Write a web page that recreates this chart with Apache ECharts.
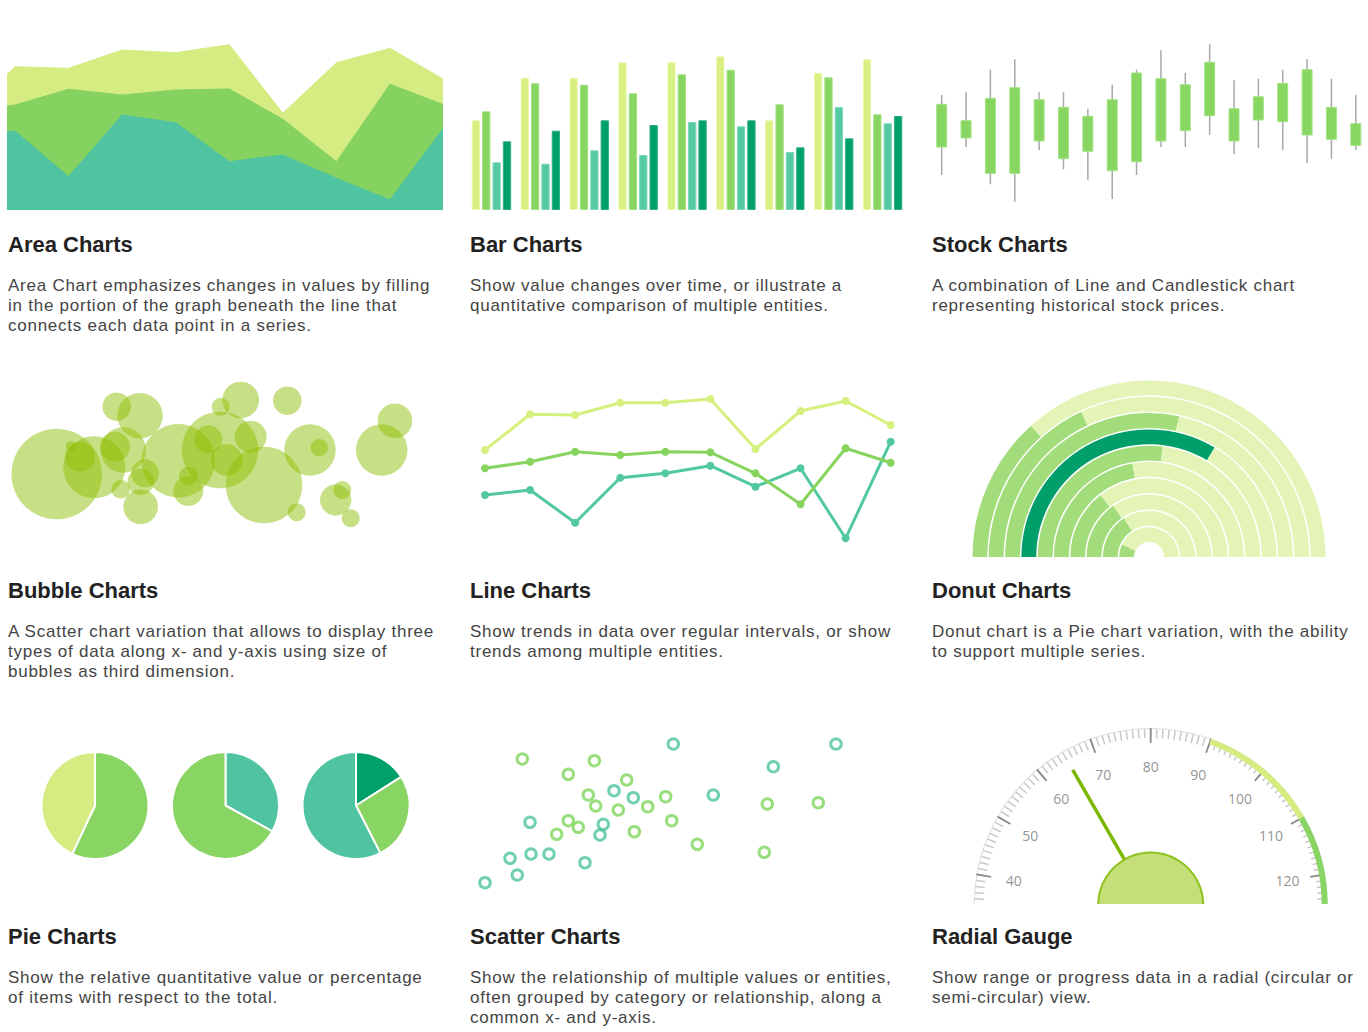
<!DOCTYPE html>
<html><head><meta charset="utf-8">
<script src="https://cdn.jsdelivr.net/npm/echarts@6/dist/echarts.min.js"></script>
<style>
html,body{margin:0;padding:0;background:#fff;width:1368px;height:1032px;overflow:hidden;position:relative}
.c{position:absolute;overflow:hidden}
.t{position:absolute;font-family:"Liberation Sans",Arial,sans-serif;font-weight:bold;font-size:22px;line-height:26px;color:#222;white-space:nowrap}
.d{position:absolute;font-family:"Liberation Sans",Arial,sans-serif;font-size:17px;line-height:20px;color:#444;white-space:nowrap;letter-spacing:0.75px}
</style></head><body>
<div id="area" class="c" style="left:0;top:30px;width:450px;height:180px"></div>
<div id="bar" class="c" style="left:460px;top:30px;width:460px;height:180px"></div>
<div id="stock" class="c" style="left:920px;top:30px;width:448px;height:210px"></div>
<div id="bubble" class="c" style="left:0;top:360px;width:450px;height:200px"></div>
<div id="line" class="c" style="left:460px;top:370px;width:450px;height:220px"></div>
<div id="donut" class="c" style="left:960px;top:370px;width:380px;height:187px"></div>
<div id="pie" class="c" style="left:30px;top:740px;width:390px;height:135px"></div>
<div id="scatter" class="c" style="left:465px;top:725px;width:390px;height:175px"></div>
<div id="gauge" class="c" style="left:960px;top:715px;width:380px;height:189px"></div>

<div class="t" style="left:8px;top:232px">Area Charts</div>
<div class="d" style="left:8px;top:276px">Area Chart emphasizes changes in values by filling<br>in the portion of the graph beneath the line that<br>connects each data point in a series.</div>
<div class="t" style="left:470px;top:232px">Bar Charts</div>
<div class="d" style="left:470px;top:276px">Show value changes over time, or illustrate a<br>quantitative comparison of multiple entities.</div>
<div class="t" style="left:932px;top:232px">Stock Charts</div>
<div class="d" style="left:932px;top:276px">A combination of Line and Candlestick chart<br>representing historical stock prices.</div>

<div class="t" style="left:8px;top:578px">Bubble Charts</div>
<div class="d" style="left:8px;top:622px">A Scatter chart variation that allows to display three<br>types of data along x- and y-axis using size of<br>bubbles as third dimension.</div>
<div class="t" style="left:470px;top:578px">Line Charts</div>
<div class="d" style="left:470px;top:622px">Show trends in data over regular intervals, or show<br>trends among multiple entities.</div>
<div class="t" style="left:932px;top:578px">Donut Charts</div>
<div class="d" style="left:932px;top:622px">Donut chart is a Pie chart variation, with the ability<br>to support multiple series.</div>

<div class="t" style="left:8px;top:924px">Pie Charts</div>
<div class="d" style="left:8px;top:968px">Show the relative quantitative value or percentage<br>of items with respect to the total.</div>
<div class="t" style="left:470px;top:924px">Scatter Charts</div>
<div class="d" style="left:470px;top:968px">Show the relationship of multiple values or entities,<br>often grouped by category or relationship, along a<br>common x- and y-axis.</div>
<div class="t" style="left:932px;top:924px">Radial Gauge</div>
<div class="d" style="left:932px;top:968px">Show range or progress data in a radial (circular or<br>semi-circular) view.</div>

<script>
// ---------- DATA ----------
const areaX = [0, 1, 2, 3, 4, 5, 6, 7, 8, 9];
const areaLight = [92, 143.3, 141.7, 160, 157.3, 165.3, 96.7, 147.3, 161.7, 130.7];
const areaGreen = [97.3, 105, 120.7, 115, 120, 121, 90.7, 48.3, 125.7, 105.3];
const areaTeal = [74, 79, 33.3, 95, 87.3, 48.3, 55, 31.7, 10, 82.3];

const barCats = ['1', '2', '3', '4', '5', '6', '7', '8', '9'];
const barS1 = [89.7, 132.3, 132.3, 147.7, 147.7, 153.7, 89.7, 137.3, 150.7];
const barS2 = [98.7, 126.7, 125.3, 116.7, 135.7, 140.3, 105.7, 132.7, 95.7];
const barS3 = [47.7, 46.3, 59.7, 55, 88, 83.7, 58, 103, 86.7];
const barS4 = [68.7, 79.3, 89.7, 85, 89.7, 89.7, 62.7, 71.7, 94];

const stockCats = ['1','2','3','4','5','6','7','8','9','10','11','12','13','14','15','16','17','18'];
const stockOpen = [88, 97, 61.7, 61.7, 94, 76.3, 83.7, 64.3, 73.3, 94, 104.3, 119.3, 94, 115, 113.3, 100, 95.7, 89.7];
const stockClose = [130.7, 114.3, 136.7, 147.3, 135.3, 127.7, 118.7, 135.3, 162, 156.3, 150.3, 172.7, 126.3, 138.3, 151.7, 165.3, 127.7, 111.3];
const stockLow = [60, 88, 50.7, 33.3, 85, 65.7, 55.3, 36, 60, 88, 88, 100, 80.7, 86.7, 85, 71.7, 76, 85];
const stockHigh = [140, 142.7, 165.3, 175.7, 142.7, 142.7, 126.3, 150.3, 165.3, 184.7, 162.3, 190.7, 154.7, 156.3, 165.3, 175.7, 156.3, 140];

// [x, y, radius]
const bubbles = [
  [56.7, 61, 45.3], [94.3, 67.7, 31], [80, 78.3, 15], [70.7, 89, 5],
  [116.7, 128.3, 14.3], [140, 119.3, 22.7], [123.3, 85, 22.7], [115, 88.3, 15],
  [145, 61.7, 14], [140.7, 53.3, 13.3], [120.7, 45.7, 9.3], [140.7, 28.3, 17.3],
  [178.3, 74.3, 36.7], [188.3, 44, 15], [188.3, 59, 9.3], [220, 85, 38.3],
  [208.3, 95.7, 14], [226.7, 75, 16], [220.7, 128.3, 9], [240.7, 135, 18.3],
  [250.7, 98.3, 16], [264, 50, 38.3], [287.3, 134.3, 14.3], [310, 85, 25.7],
  [319.3, 87.3, 8.7], [296.7, 22.7, 9], [335.7, 35, 15.7], [342.3, 45, 9],
  [350.7, 16.7, 9], [381.7, 85, 25.7], [395, 114.3, 17.3]
];

const lineCats = ['1','2','3','4','5','6','7','8','9','10'];
const lineLight = [135, 170.7, 170, 182.3, 182.3, 186, 136, 174, 184, 160];
const lineGreen = [116.7, 123.3, 133.3, 130, 133.3, 132.7, 111.7, 80.7, 136.7, 122.3];
const lineTeal = [90, 95, 62.3, 107.3, 111.7, 119.3, 98.3, 116.7, 46.7, 143.3];

// percent of half circle filled, outer ring first
const donutFilled = [26.7, 36.1, 56.7, 67.2, 53.9, 44.4, 28.9, 30.6, 31.7, 13.9];

const pie1 = [57, 43];
const pie2 = [33, 67];
const pie3 = [16, 26.5, 57.5];

const scatterGreen = [
  [57.3, 141], [103.3, 125.7], [129.3, 139.3], [161.7, 120], [123.3, 105], [130.7, 94],
  [153.3, 90], [182.7, 93.3], [200.7, 103.3], [206.7, 79.3], [169.3, 68.3], [103.3, 79.3],
  [113.3, 72.7], [91.7, 65.7], [232.3, 55.7], [302.3, 96], [353.3, 97.3], [299.3, 47.7]
];
const scatterTeal = [
  [208.3, 156], [371, 156], [308.3, 133.3], [248.3, 105], [149, 109.3], [168.3, 102.3],
  [138.3, 75.7], [135, 65], [65, 77.7], [45, 41.7], [66, 46], [84, 46], [52.3, 25],
  [20, 17.3], [120, 37.3]
];

const gaugeMin = 40, gaugeMax = 120, gaugeValue = 65;
const gaugeTickLabels = [40, 50, 60, 70, 80, 90, 100, 110, 120];
const gaugeBands = [[90, 110], [110, 125]];

// ---------- COLORS ----------
const C_LIGHT = '#d4ec82', C_GREEN = '#88d563', C_TEAL = '#50c3a0', C_DARK = '#00a06b';

function mk(id) { return echarts.init(document.getElementById(id), null, { renderer: 'svg' }); }

// Area
function areaSeries(vals, color) {
  return { type: 'line', data: areaX.map((x, i) => [x, vals[i]]), symbol: 'none', clip: true,
    lineStyle: { width: 1, color: color }, areaStyle: { color: color, opacity: 1 }, itemStyle: { color: color }, silent: true };
}
mk('area').setOption({
  animation: false,
  grid: { left: 8, top: 10, width: 434, height: 170 },
  xAxis: { type: 'value', min: 0.87, max: 8.97, show: false },
  yAxis: { type: 'value', min: 0, max: 170, show: false },
  series: [areaSeries(areaLight, '#d4ec82'), areaSeries(areaGreen, '#86d260'), areaSeries(areaTeal, '#50c3a0')]
});

// Bar
const barFills = ['#d8ef82', '#88d563', '#55c9a3', '#00a06b'];
const barBorders = ['#ecf8b0', '#a2e282', '#7ed8b8', '#2db07f'];
mk('bar').setOption({
  animation: false,
  grid: { left: 7, top: 10, width: 440, height: 170 },
  xAxis: { type: 'category', data: barCats, show: false },
  yAxis: { type: 'value', min: 0, max: 170, show: false },
  series: [barS1, barS2, barS3, barS4].map((d, i) => ({
    type: 'bar', data: d, barWidth: 8.3, barGap: '25%', silent: true,
    itemStyle: { color: barFills[i], borderColor: barBorders[i], borderWidth: 1 }
  }))
});

// Stock
mk('stock').setOption({
  animation: false,
  grid: { left: 9.5, top: 5, width: 439, height: 200 },
  xAxis: { type: 'category', data: stockCats, show: false },
  yAxis: { type: 'value', min: 0, max: 200, show: false },
  series: [{
    type: 'custom', silent: true,
    data: stockOpen.map((o, i) => [i, o, stockClose[i], stockLow[i], stockHigh[i]]),
    encode: { x: 0, y: [1, 2, 3, 4] },
    renderItem: function (params, api) {
      const x = api.value(0);
      const o = api.coord([x, api.value(1)]);
      const c = api.coord([x, api.value(2)]);
      const lo = api.coord([x, api.value(3)]);
      const hi = api.coord([x, api.value(4)]);
      const w = 10;
      return { type: 'group', children: [
        { type: 'line', shape: { x1: hi[0], y1: hi[1], x2: lo[0], y2: lo[1] }, style: { stroke: '#a8a8a8', lineWidth: 1.5 } },
        { type: 'rect', shape: { x: o[0] - w / 2, y: Math.min(o[1], c[1]), width: w, height: Math.abs(o[1] - c[1]) },
          style: { fill: '#88d662', stroke: '#a4e386', lineWidth: 1 } }
      ] };
    }
  }]
});

// Bubble
mk('bubble').setOption({
  animation: false,
  grid: { left: 0, top: 15, width: 450, height: 160 },
  xAxis: { type: 'value', min: 0, max: 450, show: false },
  yAxis: { type: 'value', min: 0, max: 160, show: false },
  series: [{ type: 'scatter', data: bubbles, symbolSize: d => d[2] * 2, silent: true,
    itemStyle: { color: 'rgba(140,190,0,0.6)' } }]
});

// Line
function lineSeries(d, color) {
  return { type: 'line', data: d, symbol: 'circle', symbolSize: 8, silent: true,
    lineStyle: { width: 3, color: color }, itemStyle: { color: color } };
}
mk('line').setOption({
  animation: false,
  grid: { left: 25, top: 15, width: 405.7, height: 200 },
  xAxis: { type: 'category', data: lineCats, boundaryGap: false, show: false },
  yAxis: { type: 'value', min: 0, max: 200, show: false },
  series: [lineSeries(lineLight, '#d6f07e'), lineSeries(lineTeal, '#52c8a0'), lineSeries(lineGreen, '#86d45e')]
});

// Donut
const donutOuter = 176.5, donutPitch = 16.3, donutWidth = 14.8;
mk('donut').setOption({
  animation: false,
  series: donutFilled.map((v, k) => ({
    type: 'pie', center: [189, 187], startAngle: 180, clockwise: true, silent: true,
    radius: [donutOuter - k * donutPitch - donutWidth, donutOuter - k * donutPitch],
    label: { show: false }, labelLine: { show: false },
    data: [
      { value: v, itemStyle: { color: k === 3 ? '#009e6a' : '#a3dc7b' } },
      { value: 100 - v, itemStyle: { color: '#e3f4b6' } },
      { value: 100, itemStyle: { color: 'rgba(0,0,0,0)' } }
    ]
  }))
});

// Pies
function pieSeries(vals, colors, cx) {
  return { type: 'pie', center: [cx, 65.5], radius: [0, 53.5], startAngle: 90, clockwise: true, silent: true,
    label: { show: false }, labelLine: { show: false },
    itemStyle: { borderColor: '#fff', borderWidth: 2 },
    data: vals.map((v, i) => ({ value: v, itemStyle: { color: colors[i] } })) };
}
mk('pie').setOption({
  animation: false,
  series: [
    pieSeries(pie1, [C_GREEN, C_LIGHT], 65),
    pieSeries(pie2, [C_TEAL, C_GREEN], 195.5),
    pieSeries(pie3, [C_DARK, C_GREEN, C_TEAL], 326)
  ]
});

// Scatter
function scSeries(d, color) {
  return { type: 'scatter', data: d, symbol: 'circle', symbolSize: 10.5, silent: true,
    itemStyle: { color: 'rgba(0,0,0,0)', borderColor: color, borderWidth: 3 } };
}
mk('scatter').setOption({
  animation: false,
  grid: { left: 0, top: 0, width: 390, height: 175 },
  xAxis: { type: 'value', min: 0, max: 390, show: false },
  yAxis: { type: 'value', min: 0, max: 175, show: false },
  series: [scSeries(scatterTeal, '#4ec3a0'), scSeries(scatterGreen, '#7fd65c')]
});

// Gauge
const gC = [190.7, 190], gR = 177, labelR = 139;
const fullMin = 35, fullMax = 125;
const off = { show: false };
mk('gauge').setOption({
  animation: false,
  polar: { center: gC, radius: gR },
  angleAxis: { type: 'value', min: fullMin, max: fullMin + 2 * (fullMax - fullMin), startAngle: 180, clockwise: true, show: false },
  radiusAxis: { type: 'value', min: 0, max: gR, show: false },
  series: [
    { type: 'gauge', center: gC, radius: gR, startAngle: 180, endAngle: 0, min: fullMin, max: fullMax, splitNumber: 90,
      axisLine: { show: true, lineStyle: { width: 1, color: [[1, '#dddddd']] } },
      splitLine: { show: true, length: 9, distance: 0, lineStyle: { color: '#c8c8c8', width: 1.5 } },
      axisTick: off, axisLabel: off, pointer: off, anchor: off, title: off, detail: off, progress: off,
      data: [{ value: fullMin }] },
    { type: 'gauge', center: gC, radius: gR, startAngle: 170, endAngle: 10, min: gaugeMin, max: gaugeMax, splitNumber: 8,
      axisLine: { show: false, lineStyle: { width: 0 } },
      splitLine: { show: true, length: 15, distance: 0, lineStyle: { color: '#8a8a8a', width: 1.8 } },
      axisTick: off, axisLabel: off,
      pointer: { show: true, icon: 'rect', length: 156, width: 3.5, offsetCenter: [0, 0], itemStyle: { color: '#7db800' } },
      anchor: { show: true, showAbove: true, size: 105, itemStyle: { color: '#c5df78', borderColor: '#8dc21f', borderWidth: 2 } },
      title: off, detail: off, progress: off,
      data: [{ value: gaugeValue }] },
    { type: 'gauge', center: gC, radius: gR, startAngle: 180, endAngle: 0, min: fullMin, max: fullMax,
      axisLine: { show: true, lineStyle: { width: 6, color: [
        [(gaugeBands[0][0] - fullMin) / (fullMax - fullMin), 'rgba(0,0,0,0)'],
        [(gaugeBands[0][1] - fullMin) / (fullMax - fullMin), '#d4ec80'],
        [(gaugeBands[1][1] - fullMin) / (fullMax - fullMin), '#88d563']
      ] } },
      splitLine: off, axisTick: off, axisLabel: off, pointer: off, anchor: off, title: off, detail: off, progress: off,
      data: [{ value: fullMin }] },
    { type: 'scatter', coordinateSystem: 'polar', silent: true, symbolSize: 1,
      itemStyle: { color: 'rgba(0,0,0,0)' },
      data: gaugeTickLabels.map(v => [labelR, v]),
      label: { show: true, position: 'inside', formatter: p => String(p.value[1]),
        color: '#777', fontSize: 14, fontFamily: 'Open Sans' } }
  ]
});
</script>
</body></html>
